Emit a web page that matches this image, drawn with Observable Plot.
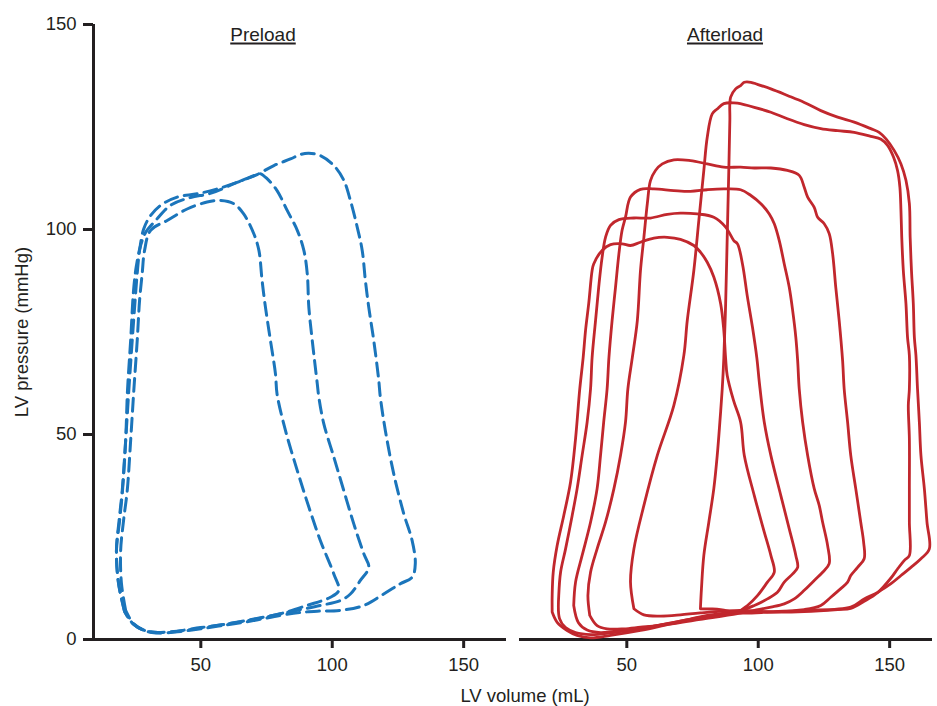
<!DOCTYPE html>
<html>
<head>
<meta charset="utf-8">
<script src="https://cdn.jsdelivr.net/npm/d3@7"></script>
<script src="https://cdn.jsdelivr.net/npm/@observablehq/plot@0.6"></script>
<style>
  html, body { margin: 0; padding: 0; background: #fff; }
</style>
</head>
<body>
<div id="chart"></div>
<script>
// ---- categories / tick labels ----
const panels = ["Preload", "Afterload"];
const volumeTicks = [50, 100, 150];
const pressureTicks = [0, 50, 100, 150];
const volumeDomain = [9.17, 166.3];
const pressureDomain = [0, 150];
const volumeLabel = "LV volume (mL)";
const pressureLabel = "LV pressure (mmHg)";

// ---- Preload loops (LV volume mL, LV pressure mmHg) ----
const preloadLow = [
  [21.4,7.1],[19.8,13.7],[19.5,21.7],[20.6,29.0],[22.0,36.3],[23.3,48.5],[24.5,60.7],[25.8,72.9],[26.7,82.7],[27.7,89.3],[28.6,94.9],[30.9,99.8],
  [37.2,102.2],[44.8,105.0],[52.4,106.7],[57.5,107.1],[62.5,106.3],[66.3,103.8],[70.2,98.9],[72.1,94.9],[73.3,87.6],[74.6,81.0],[76.5,72.9],[78.4,64.8],[79.0,59.9],
  [82.2,51.0],[86.7,41.2],[91.1,32.3],[95.5,24.1],[100.6,16.0],[102.5,12.0],
  [99.3,10.3],[90.4,8.3],[80.3,6.3],[70.2,5.0],[60.0,3.8],[49.9,2.9],[37.2,1.8],[29.6,2.0],[24.5,3.8],[21.4,7.1]
];
const preloadMid = [
  [21.0,6.8],[18.7,13.7],[17.9,21.7],[18.9,29.0],[20.1,36.3],[21.4,48.5],[22.6,60.7],[23.9,72.9],[25.0,82.7],[25.8,89.3],[26.7,94.9],[28.3,100.2],
  [30.9,103.4],[34.7,105.9],[41.0,107.9],[48.6,108.7],[56.2,109.9],[63.8,111.5],[71.4,113.4],[72.7,113.6],[75.2,112.4],[79.0,109.5],[82.9,104.6],[86.7,99.8],
  [89.2,94.9],[90.5,89.2],[91.1,81.0],[92.4,72.9],[94.3,62.4],[94.9,59.1],[96.8,52.6],[100.6,44.5],[104.4,36.3],[108.2,28.2],[112.0,20.9],[113.9,17.6],
  [110.7,14.4],[106.9,11.1],[103.1,9.5],[95.5,8.3],[85.0,6.9],[75.0,5.5],[65.0,4.3],[55.0,3.3],[45.0,2.3],[37.0,1.7],[29.6,2.0],[24.4,3.7],[21.0,6.8]
];
const preloadHigh = [
  [21.0,6.8],[18.7,13.7],[17.9,21.7],[19.1,29.0],[20.2,36.3],[21.4,48.5],[22.1,60.7],[23.3,72.9],[24.4,85.1],[25.5,91.2],[27.1,96.1],[29.0,99.3],
  [32.8,102.2],[38.5,105.9],[46.1,107.8],[53.6,108.8],[63.8,111.5],[71.4,113.4],[77.8,115.6],[84.1,117.2],[87.9,118.3],[91.1,118.6],[95.5,118.0],[100.6,115.6],
  [104.4,112.0],[106.9,107.1],[109.5,100.6],[111.4,94.9],[112.6,87.6],[113.9,81.0],[115.8,72.9],[117.7,63.2],[118.3,59.1],[120.2,51.0],[123.4,40.4],
  [127.2,30.7],[130.4,24.1],[131.6,18.5],[130.4,15.2],[125.9,13.6],[119.6,11.1],[112.0,8.3],[103.1,7.1],[94.3,6.9],[87.9,6.6],[80.3,5.9],
  [70.0,4.6],[60.0,3.6],[50.0,2.6],[40.0,1.8],[33.0,1.6],[28.0,2.3],[24.0,4.0],[21.0,6.8]
];

// ---- Afterload loops ----
const afterload1 = [
  [21.6,6.7],[21.6,10.7],[22.0,16.4],[23.5,22.9],[26.0,30.2],[28.6,38.4],[30.5,49.0],[32.1,61.1],[33.4,68.8],[34.3,75.4],[35.5,81.9],[36.8,90.0],[37.4,91.6],
  [40.6,94.9],[43.8,96.3],[48.2,96.5],[51.4,96.1],[55.2,96.9],[60.3,97.9],[65.4,98.1],[70.4,97.6],[75.5,96.1],[78.0,94.5],[80.6,92.0],[83.1,88.4],
  [85.7,81.9],[86.9,75.4],[87.6,68.5],[88.2,64.4],[90.6,58.3],[93.3,53.0],[94.7,44.9],[98.5,35.1],[102.3,26.2],[104.8,20.5],[106.1,16.4],
  [103.5,14.0],[99.7,10.7],[95.9,8.3],[92.1,6.7],[78.0,5.2],[66.7,3.8],[55.2,2.2],[43.8,1.0],[36.2,0.4],[31.1,1.0],[27.3,2.2],[23.5,4.2],[21.6,6.7]
];
const afterload2 = [
  [24.1,10.7],[24.8,16.4],[26.7,22.1],[29.2,30.2],[31.1,36.8],[33.0,44.9],[34.9,53.0],[36.2,61.1],[36.8,68.8],[38.1,77.8],[39.3,85.9],[40.6,93.2],[41.9,98.1],
  [43.8,101.0],[47.0,102.4],[52.7,102.8],[59.0,102.8],[65.4,103.7],[70.4,104.0],[76.8,103.8],[83.1,103.0],[87.6,100.6],[90.7,97.3],[92.1,96.5],
  [94.0,91.6],[95.9,83.5],[97.8,76.2],[99.5,68.5],[100.4,62.8],[102.3,53.0],[104.8,44.9],[108.6,35.1],[111.8,27.0],[114.3,20.5],[115.0,17.6],
  [113.1,16.0],[109.9,14.0],[107.3,11.5],[103.5,9.9],[98.5,8.3],[92.1,6.8],[78.0,5.4],[66.7,4.0],[55.2,2.7],[43.8,1.6],[36.2,1.2],[30.5,1.7],[26.7,2.9],[24.4,5.1],[24.1,10.7]
];
const afterload3 = [
  [29.8,8.3],[30.5,14.0],[33.0,20.5],[36.2,28.6],[38.7,36.8],[40.0,44.9],[41.2,53.0],[42.5,61.1],[43.2,68.8],[44.4,77.8],[45.7,85.9],[47.0,94.1],[48.2,99.8],
  [49.5,103.0],[51.4,107.9],[55.2,109.8],[60.3,109.9],[67.9,109.5],[74.2,109.3],[80.6,109.7],[86.9,109.9],[93.3,109.7],[97.2,108.3],[101.0,106.3],
  [104.2,103.8],[106.1,101.4],[108.0,97.3],[109.9,91.6],[111.8,85.9],[113.1,80.2],[114.3,73.7],[115.0,68.0],[115.6,61.1],[116.9,53.0],[118.8,44.9],
  [121.3,36.8],[123.2,32.7],[124.5,28.6],[126.4,22.9],[127.0,18.5],
  [124.5,16.4],[121.3,14.4],[117.5,12.0],[113.7,9.9],[109.9,8.7],[104.8,7.9],[98.5,7.1],[92.1,6.3],[78.0,4.9],[67.9,3.9],[55.2,2.8],[48.9,2.3],
  [40.0,1.7],[34.9,2.3],[31.6,4.1],[29.8,8.3]
];
const afterload4 = [
  [35.9,5.9],[35.2,10.7],[36.2,16.4],[38.7,22.1],[41.9,28.6],[45.1,36.8],[47.6,44.9],[49.5,53.0],[50.4,61.1],[52.1,68.8],[54.0,77.8],[55.2,90.0],[56.5,98.1],
  [57.8,106.3],[59.0,111.9],[60.9,114.4],[63.5,116.0],[67.9,117.0],[74.2,116.8],[80.6,116.0],[86.9,115.2],[93.3,115.2],[98.5,115.0],[104.8,115.0],
  [111.1,114.4],[115.6,113.2],[117.5,110.3],[118.8,107.9],[121.3,105.4],[122.6,103.0],[125.1,101.4],[127.0,99.0],[128.3,94.1],[129.5,85.9],[130.8,77.8],
  [132.1,68.0],[132.7,61.1],[134.0,53.0],[135.2,44.9],[137.1,36.8],[139.0,28.6],[140.1,23.7],[140.3,19.7],
  [137.8,17.6],[135.2,15.6],[134.0,14.0],[131.4,12.4],[127.6,10.3],[123.8,8.3],[117.5,7.3],[104.8,6.8],[93.3,6.8],[80.6,5.9],[74.2,5.0],[67.9,4.2],
  [61.7,3.4],[55.2,3.0],[48.9,2.6],[42.5,2.6],[38.7,3.4],[35.9,5.9]
];
const afterload5 = [
  [52.7,7.5],[51.4,14.0],[52.7,22.1],[56.5,32.7],[61.6,44.9],[67.9,57.1],[71.7,69.3],[73.0,77.8],[75.5,90.0],[77.4,102.2],[79.3,114.4],[80.6,122.5],
  [82.5,128.2],[84.4,129.4],[86.9,130.7],[90.7,130.9],[92.1,130.8],[98.5,129.8],[104.8,128.6],[111.1,127.0],[117.5,125.6],[123.8,124.6],[130.2,124.1],
  [136.5,123.7],[142.8,122.7],[146.7,122.0],[149.2,120.5],[151.5,117.6],[153.0,114.4],[153.9,110.3],[154.3,104.6],[154.6,98.1],[155.2,90.0],[156.2,81.9],
  [156.8,73.7],[157.5,69.3],[157.5,61.1],[157.1,57.1],[157.5,49.0],[157.5,36.8],[157.5,28.6],[157.5,20.5],
  [155.6,19.3],[153.0,17.2],[150.5,15.0],[145.4,11.4],[140.3,9.3],[135.2,7.6],[130.2,7.3],[117.5,6.8],[104.8,6.7],[93.3,7.1],[78.0,6.5],[70.4,6.0],
  [62.8,5.7],[56.5,6.0],[52.7,7.5]
];
const afterload6 = [
  [78.0,7.5],[78.4,12.4],[79.3,20.5],[81.2,28.6],[83.1,36.8],[84.4,44.9],[85.4,53.0],[86.3,61.1],[86.9,68.5],[87.6,81.9],[88.2,98.1],[88.8,114.4],
  [89.2,126.6],[89.5,132.3],[91.4,134.3],[93.3,135.1],[94.7,135.9],[97.2,135.9],[99.7,135.4],[104.8,134.3],[111.1,132.7],[117.5,131.0],[123.8,129.0],
  [130.2,127.4],[136.5,126.2],[142.8,124.6],[146.0,123.7],[148.6,122.1],[151.7,119.3],[154.3,116.0],[156.2,112.0],[157.5,106.3],[157.8,98.1],[158.3,90.0],
  [159.0,81.9],[159.4,73.7],[160.0,69.3],[160.6,61.1],[161.3,53.0],[161.9,44.9],[163.2,36.8],[164.2,28.6],[165.1,22.1],
  [161.9,19.7],[158.1,17.6],[154.3,15.6],[150.5,13.6],[145.4,11.5],[140.3,9.9],[135.2,7.9],[117.5,7.1],[104.8,6.7],[92.1,6.5],[85.7,7.3],[78.0,7.5]
];

// ---- build tables ----
function rowsOf(panel, loop, pts) {
  return pts.map(([x, y], i) => ({panel, loop, i, x, y}));
}
const preloadRows = [
  ...rowsOf("Preload", "low", preloadLow),
  ...rowsOf("Preload", "mid", preloadMid),
  ...rowsOf("Preload", "high", preloadHigh)
];
const afterloadRows = [
  ...rowsOf("Afterload", "a1", afterload1),
  ...rowsOf("Afterload", "a2", afterload2),
  ...rowsOf("Afterload", "a3", afterload3),
  ...rowsOf("Afterload", "a4", afterload4),
  ...rowsOf("Afterload", "a5", afterload5),
  ...rowsOf("Afterload", "a6", afterload6)
];

const ink = "#231f20";
const chart = Plot.plot({
  width: 937,
  height: 706,
  marginLeft: 93,
  marginRight: 5,
  marginTop: 24,
  marginBottom: 67,
  style: {fontFamily: "'Liberation Sans', Arial, Helvetica, sans-serif", fontSize: "18.5px", color: ink, background: "#fff"},
  fx: {domain: panels, paddingInner: 0.0305, paddingOuter: 0, round: false, axis: null, label: null},
  x: {domain: volumeDomain, label: volumeLabel},
  y: {domain: pressureDomain, label: pressureLabel},
  marks: [
    Plot.ruleY([0], {stroke: ink, strokeWidth: 3}),
    Plot.ruleX([{panel: "Preload", x: volumeDomain[0]}], {fx: "panel", x: "x", y1: pressureDomain[0], y2: pressureDomain[1], stroke: ink, strokeWidth: 3}),
    Plot.axisX({ticks: volumeTicks, tickSize: 9, tickPadding: 9, strokeWidth: 3, stroke: ink, label: volumeLabel, labelAnchor: "center", labelArrow: false, labelOffset: 62}),
    Plot.axisY({ticks: pressureTicks, tickSize: 10, tickPadding: 7, strokeWidth: 3, stroke: ink, label: pressureLabel, labelAnchor: "center", labelArrow: false, labelOffset: 79}),
    Plot.line(preloadRows, {fx: "panel", x: "x", y: "y", z: "loop", stroke: "#1b75bb", strokeWidth: 3, strokeDasharray: "13,7", curve: "catmull-rom"}),
    Plot.line(afterloadRows, {fx: "panel", x: "x", y: "y", z: "loop", stroke: "#c1272d", strokeWidth: 2.8, curve: "catmull-rom"}),
    Plot.text(["Preload"], {fx: d => d, text: d => d, frameAnchor: "top", lineAnchor: "top", dy: 3, dx: -37, fontSize: 19, fill: ink}),
    Plot.text(["Afterload"], {fx: d => d, text: d => d, frameAnchor: "top", lineAnchor: "top", dy: 3, dx: -1, fontSize: 19, fill: ink})
  ]
});
document.getElementById("chart").appendChild(chart);

// underline the panel titles (as in the reference)
d3.select(chart).selectAll("text")
  .filter(function () { return panels.includes(this.textContent); })
  .each(function () {
    const b = this.getBBox();
    d3.select(this.parentNode).append("line")
      .attr("transform", this.getAttribute("transform"))
      .attr("x1", b.x).attr("x2", b.x + b.width)
      .attr("y1", b.y + b.height - 1.5).attr("y2", b.y + b.height - 1.5)
      .attr("stroke", ink).attr("stroke-width", 2);
  });

// nudge the volume label slightly right, as in the reference
d3.select(chart).selectAll("text")
  .filter(function () { return this.textContent === volumeLabel; })
  .attr("dx", 12);
</script>
</body>
</html>
